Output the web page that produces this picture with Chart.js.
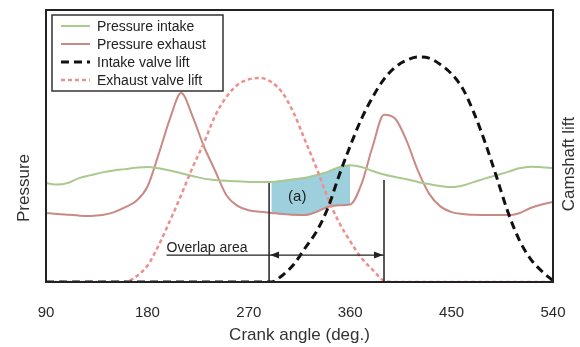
<!DOCTYPE html>
<html>
<head>
<meta charset="utf-8">
<script src="https://cdn.jsdelivr.net/npm/chart.js@4"></script>
<style>
  html, body { margin: 0; padding: 0; background: #fff; }
  #wrap { width: 580px; height: 347px; }
</style>
</head>
<body>
<div id="wrap"><canvas id="grafik" width="580" height="347"></canvas></div>
<script>
// crank angle samples (deg.)
const angles = [90, 100, 110, 120, 130, 140, 150, 160, 170, 180, 190, 200, 210, 220, 230, 240, 250, 260, 270, 280,
  290, 300, 310, 320, 330, 340, 350, 360, 370, 380, 390, 400, 410, 420, 430, 440, 450, 460, 470, 480,
  490, 500, 510, 520, 530, 540];

// pressures (relative, 0-100)
const pressureIntake = [36.4, 35.8, 36.5, 38.3, 39.3, 40.3, 41.0, 41.5, 42.0, 42.3, 41.8, 41.0, 40.0, 39.0, 38.0, 37.5, 37.2, 37.0, 36.8, 36.8,
  36.8, 37.2, 37.8, 38.3, 39.3, 40.5, 42.2, 42.9, 42.3, 40.8, 39.5, 38.6, 37.8, 36.8, 36.0, 35.3, 34.9, 35.5, 36.8, 38.1,
  39.3, 40.5, 41.8, 42.4, 42.2, 41.9];
const pressureExhaust = [25.4, 25.0, 24.7, 24.4, 24.3, 24.6, 25.6, 27.4, 29.8, 35.0, 47.0, 60.0, 69.5, 61.0, 50.0, 41.0, 32.0, 28.0, 26.4, 25.8,
  25.4, 25.0, 24.7, 24.6, 25.8, 27.6, 28.2, 28.5, 36.0, 50.0, 61.5, 60.0, 52.0, 41.0, 32.5, 27.8, 25.7, 25.0, 24.7, 24.6,
  24.6, 24.6, 25.3, 27.2, 28.5, 29.4];

// valve lifts (relative, 0-100)
const intakeLift = [0, 0, 0, 0, 0, 0, 0, 0, 0, 0, 0, 0, 0, 0, 0, 0, 0, 0, 0, 0,
  0, 2.5, 6.5, 12.5, 18.5, 27, 39, 50, 60, 68, 74.6, 79, 81.5, 82.7, 82.3, 80, 76.5, 71, 62, 51,
  38.5, 25.7, 15.5, 8.5, 4, 0.5];
const exhaustLift = [0, 0, 0, 0, 0, 0, 0, 0, 2, 6, 13.5, 22.5, 32, 42, 51, 61, 68, 72.5, 74.5, 75,
  73.5, 69.5, 62, 52, 42, 31, 22, 15, 8.8, 4.5, 0.5, 0, 0, 0, 0, 0, 0, 0, 0, 0,
  0, 0, 0, 0, 0, 0];

const xTicks = [90, 180, 270, 360, 450, 540];
const overlapFrom = 290;
const overlapTo = 360;
const overlapStart = 288; // intake opens
const overlapEnd = 390;   // exhaust closes

const FONT = "'Liberation Sans', Arial, sans-serif";

function pts(vals) {
  return angles.map((a, i) => ({ x: a, y: vals[i] }));
}
function ptsRange(vals) {
  return pts(vals).filter(p => p.x >= overlapFrom && p.x <= overlapTo);
}

const annotations = {
  id: "annotations",
  afterDatasetsDraw(chart) {
    const ctx = chart.ctx;
    const x = chart.scales.x;
    const y = chart.scales.y;
    const area = chart.chartArea;
    ctx.save();

    // overlap marker lines
    ctx.strokeStyle = "#222";
    ctx.lineWidth = 1.5;
    ctx.beginPath();
    ctx.moveTo(x.getPixelForValue(overlapStart), area.bottom);
    ctx.lineTo(x.getPixelForValue(overlapStart), y.getPixelForValue(36.4));
    ctx.moveTo(x.getPixelForValue(overlapEnd), area.bottom);
    ctx.lineTo(x.getPixelForValue(overlapEnd), y.getPixelForValue(37.5));
    ctx.stroke();

    // arrow line with the label
    const ay = y.getPixelForValue(9.9);
    const x0 = x.getPixelForValue(197);
    const x1 = x.getPixelForValue(overlapStart);
    const x2 = x.getPixelForValue(overlapEnd);
    ctx.lineWidth = 1.3;
    ctx.beginPath();
    ctx.moveTo(x0, ay);
    ctx.lineTo(x2, ay);
    ctx.stroke();
    ctx.fillStyle = "#222";
    ctx.beginPath();
    ctx.moveTo(x1 + 1, ay);
    ctx.lineTo(x1 + 10, ay - 3.5);
    ctx.lineTo(x1 + 10, ay + 3.5);
    ctx.closePath();
    ctx.fill();
    ctx.beginPath();
    ctx.moveTo(x2 - 1, ay);
    ctx.lineTo(x2 - 10, ay - 3.5);
    ctx.lineTo(x2 - 10, ay + 3.5);
    ctx.closePath();
    ctx.fill();

    ctx.fillStyle = "#222";
    ctx.font = "14px " + FONT;
    ctx.textBaseline = "alphabetic";
    ctx.textAlign = "left";
    ctx.fillText("Overlap area", x0, ay - 3);

    ctx.font = "15px " + FONT;
    ctx.textAlign = "center";
    ctx.textBaseline = "middle";
    ctx.fillText("(a)", x.getPixelForValue(313), y.getPixelForValue(31.3));

    // legend box
    const lx = 52, ly = 15, lw = 171, lh = 76;
    ctx.fillStyle = "#fff";
    ctx.fillRect(lx, ly, lw, lh);
    ctx.strokeStyle = "#333";
    ctx.lineWidth = 1.5;
    ctx.strokeRect(lx, ly, lw, lh);
    const rows = [26, 44, 62, 80];
    chart.data.datasets.filter(d => !d.isOverlap).forEach((d, i) => {
      const ry = rows[i];
      ctx.strokeStyle = d.borderColor;
      ctx.lineWidth = d.borderWidth;
      ctx.setLineDash(d.borderDash || []);
      ctx.beginPath();
      ctx.moveTo(61, ry);
      ctx.lineTo(90, ry);
      ctx.stroke();
      ctx.setLineDash([]);
      ctx.fillStyle = "#222";
      ctx.font = "14px " + FONT;
      ctx.textAlign = "left";
      ctx.textBaseline = "middle";
      ctx.fillText(d.label, 97, ry + 1);
    });

    // frame
    ctx.strokeStyle = "#222";
    ctx.lineWidth = 2;
    ctx.strokeRect(area.left, area.top, area.right - area.left, area.bottom - area.top);

    // axis titles
    ctx.fillStyle = "#333";
    ctx.font = "17px " + FONT;
    ctx.textAlign = "center";
    ctx.textBaseline = "middle";
    ctx.fillText("Crank angle (deg.)", (area.left + area.right) / 2, 335);
    ctx.save();
    ctx.translate(24, 188);
    ctx.rotate(-Math.PI / 2);
    ctx.fillText("Pressure", 0, 0);
    ctx.restore();
    ctx.save();
    ctx.translate(569, 164);
    ctx.rotate(-Math.PI / 2);
    ctx.fillText("Camshaft lift", 0, 0);
    ctx.restore();

    ctx.restore();
  }
};

const ctx = document.getElementById("grafik").getContext("2d");
new Chart(ctx, {
  type: "line",
  data: {
    datasets: [
      {
        label: "Pressure intake",
        data: pts(pressureIntake),
        yAxisID: "y",
        borderColor: "#a9c98f",
        borderWidth: 2,
        order: 1
      },
      {
        label: "Pressure exhaust",
        data: pts(pressureExhaust),
        yAxisID: "y",
        borderColor: "#c98a86",
        borderWidth: 2,
        order: 1
      },
      {
        label: "Intake valve lift",
        data: pts(intakeLift),
        yAxisID: "y2",
        borderColor: "#111",
        borderWidth: 3,
        borderDash: [8, 5],
        order: 0
      },
      {
        label: "Exhaust valve lift",
        data: pts(exhaustLift),
        yAxisID: "y2",
        borderColor: "#ec8f8f",
        borderWidth: 2.5,
        borderDash: [4, 3],
        order: 0
      },
      {
        label: "overlap top",
        isOverlap: true,
        data: ptsRange(pressureIntake),
        yAxisID: "y",
        borderColor: "#6fa3b8",
        borderWidth: 1,
        backgroundColor: "#9dcfdc",
        fill: "+1",
        order: 5
      },
      {
        label: "overlap bottom",
        isOverlap: true,
        data: ptsRange(pressureExhaust),
        yAxisID: "y",
        borderColor: "#6fa3b8",
        borderWidth: 1,
        order: 5
      }
    ]
  },
  options: {
    responsive: false,
    animation: false,
    devicePixelRatio: 1,
    elements: {
      point: { radius: 0 },
      line: { cubicInterpolationMode: "monotone", fill: false }
    },
    layout: { padding: { top: 10 } },
    plugins: {
      legend: { display: false },
      tooltip: { enabled: false }
    },
    scales: {
      x: {
        type: "linear",
        min: 90,
        max: 540,
        afterBuildTicks: s => { s.ticks = xTicks.map(v => ({ value: v })); },
        afterFit: s => { s.height = 65; },
        grid: { display: false },
        border: { display: false },
        ticks: {
          padding: 14,
          color: "#2a2a2a",
          font: { family: FONT, size: 15 },
          maxRotation: 0
        }
      },
      y: {
        min: 0,
        max: 100,
        position: "left",
        afterFit: s => { s.width = 46; },
        grid: { display: false },
        border: { display: false },
        ticks: { display: false }
      },
      y2: {
        min: 0,
        max: 100,
        position: "right",
        afterFit: s => { s.width = 27; },
        grid: { display: false },
        border: { display: false },
        ticks: { display: false }
      }
    }
  },
  plugins: [annotations]
});
</script>
</body>
</html>
